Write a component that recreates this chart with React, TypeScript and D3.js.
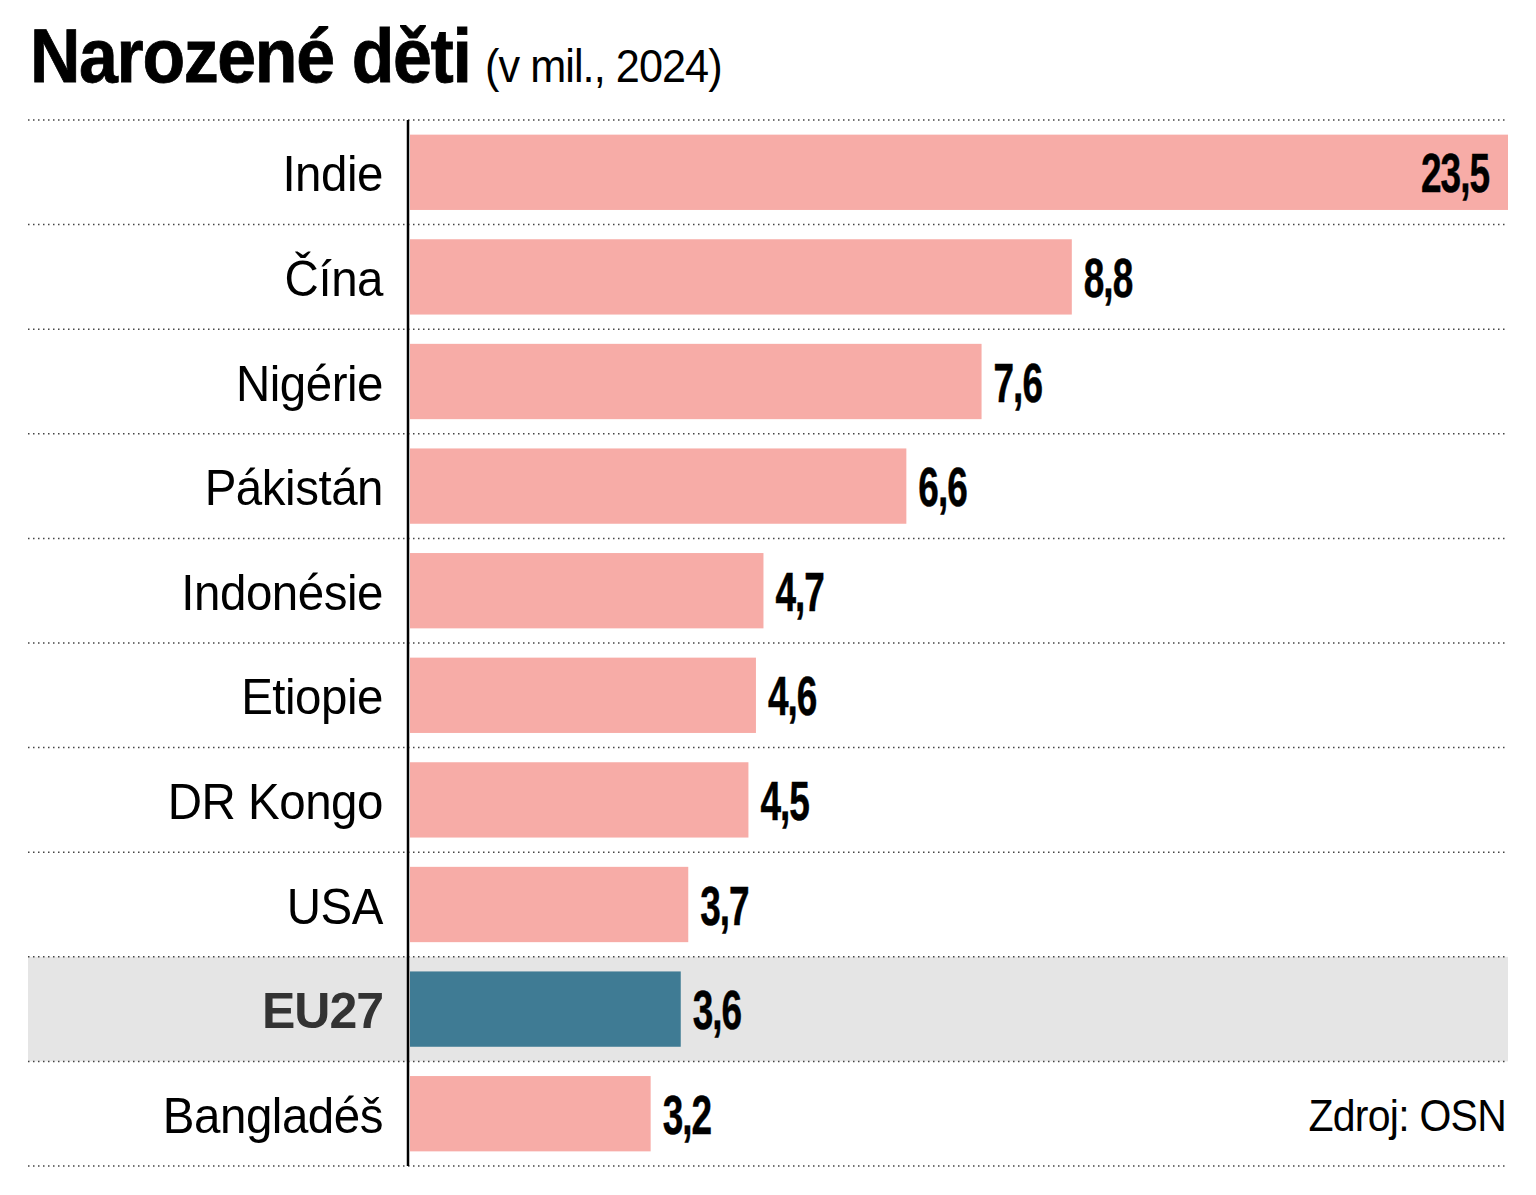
import React from "react";
import * as d3 from "d3";

const categories = ["Indie", "Čína", "Nigérie", "Pákistán", "Indonésie", "Etiopie", "DR Kongo", "USA", "EU27", "Bangladéš"];
const values = [23.5, 8.8, 7.6, 6.6, 4.7, 4.6, 4.5, 3.7, 3.6, 3.2];
const highlighted = ["EU27"];
const title = "Narozené děti";
const subtitle = "(v mil., 2024)";
const source = "Zdroj: OSN";

const W = 1536;
const H = 1195;
const LEFT = 28;
const RIGHT = 1508;
const AXIS_X = 408;
const TOP = 120;
const BOTTOM = 1166;

const fmt = (v: number) => d3.format(".1f")(v).replace(".", ",");

export default function App() {
  const x = d3.scaleLinear().domain([0, 14.6]).range([AXIS_X + 2, RIGHT]).clamp(true);
  const y = d3
    .scaleBand<string>()
    .domain(categories)
    .range([TOP, BOTTOM])
    .paddingInner(0.28)
    .paddingOuter(0.14);
  const step = y.step();
  const gridYs = d3.range(categories.length + 1).map((i) => TOP + i * step);
  const font = "'Liberation Sans', Arial, Helvetica, sans-serif";

  return (
    <svg
      width={W}
      height={H}
      viewBox={`0 0 ${W} ${H}`}
      style={{ position: "absolute", left: 0, top: 0, background: "#fff" }}
    >
      <rect x={0} y={0} width={W} height={H} fill="#fff" />
      {/* title */}
      <text
        transform={`translate(30,82) scale(0.92,1)`}
        fontFamily={font}
        fontWeight={700}
        fontSize={76}
        letterSpacing={-1.5}
        fill="#000"
        stroke="#000"
        strokeWidth={0.8}
      >
        {title}
      </text>
      <text
        transform={`translate(485,82) scale(0.94,1)`}
        fontFamily={font}
        fontSize={46}
        letterSpacing={-1}
        fill="#000"
      >
        {subtitle}
      </text>

      {/* highlight rows */}
      {categories.map((c, i) =>
        highlighted.includes(c) ? (
          <rect key={"h" + c} x={LEFT} y={gridYs[i]} width={RIGHT - LEFT} height={step} fill="#e5e5e5" />
        ) : null
      )}

      {/* gridlines */}
      {gridYs.map((gy, i) => (
        <line
          key={"g" + i}
          x1={LEFT}
          x2={RIGHT}
          y1={gy}
          y2={gy}
          stroke="#444"
          strokeWidth={1.5}
          strokeDasharray="1.5 3.5"
        />
      ))}

      {/* bars */}
      {categories.map((c, i) => {
        const hl = highlighted.includes(c);
        return (
          <rect
            key={"b" + c}
            x={x(0)}
            y={y(c)!}
            width={x(values[i]) - x(0)}
            height={y.bandwidth()}
            fill={hl ? "#3f7b94" : "#f7aca7"}
          />
        );
      })}

      {/* axis line */}
      <line x1={AXIS_X} x2={AXIS_X} y1={TOP} y2={BOTTOM} stroke="#000" strokeWidth={2.5} />

      {/* category labels */}
      {categories.map((c) => {
        const hl = highlighted.includes(c);
        const cy = y(c)! + y.bandwidth() / 2;
        return (
          <text
            key={"l" + c}
            transform={`translate(383,${cy + 19}) scale(${hl ? 1.0 : 0.95},1)`}
            textAnchor="end"
            fontFamily={font}
            fontSize={50}
            fontWeight={hl ? 700 : 400}
            letterSpacing={hl ? -1 : -0.5}
            fill={hl ? "#333" : "#000"}
          >
            {c}
          </text>
        );
      })}

      {/* value labels */}
      {categories.map((c, i) => {
        const v = values[i];
        const end = x(v);
        const inside = end >= RIGHT - 1;
        const cy = y(c)! + y.bandwidth() / 2;
        const tx = inside ? end - 19 : end + 12;
        return (
          <text
            key={"v" + c}
            transform={`translate(${tx},${cy + 20}) scale(0.66,1)`}
            textAnchor={inside ? "end" : "start"}
            fontFamily={font}
            fontSize={56}
            fontWeight={700}
            letterSpacing={-1.5}
            fill="#000"
            stroke="#000"
            strokeWidth={0.5}
          >
            {fmt(v)}
          </text>
        );
      })}

      {/* source */}
      <text
        transform={`translate(1506,1131) scale(0.91,1)`}
        textAnchor="end"
        fontFamily={font}
        fontSize={45}
        letterSpacing={-0.8}
        fill="#000"
      >
        {source}
      </text>
    </svg>
  );
}
